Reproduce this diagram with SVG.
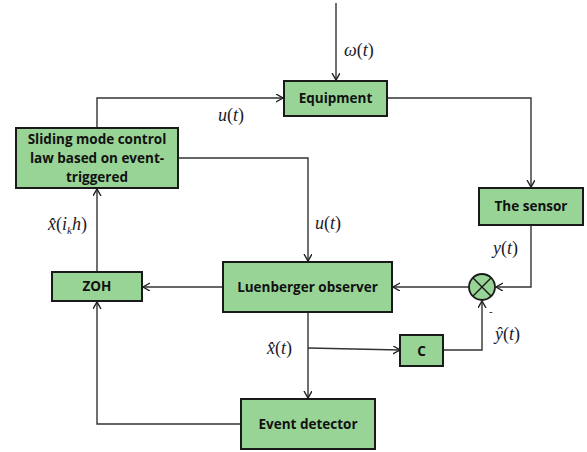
<svg xmlns="http://www.w3.org/2000/svg" width="587" height="452" viewBox="0 0 587 452">
  <style>
    .box { fill: #98d495; stroke: #1a1a1a; stroke-width: 2; }
    .lbl { font-family: "Open Sans", "Liberation Sans", sans-serif; font-weight: bold; font-size: 13.5px; fill: #111; text-anchor: middle; }
    .wire { fill: none; stroke: #333; stroke-width: 1.4; }
    .math { font-family: "Liberation Serif", "Times New Roman", serif; font-size: 18px; fill: #1a1a2a; }
    .it { font-style: italic; }
  </style>
  <defs>
    <marker id="arr" markerWidth="10" markerHeight="10" refX="7" refY="4" orient="auto" markerUnits="userSpaceOnUse">
      <path d="M0,0 L7,4 L0,8" fill="none" stroke="#222" stroke-width="1.4"/>
    </marker>
  </defs>

  <rect width="587" height="452" fill="#ffffff"/>

  <g id="connectors">
    <!-- disturbance into plant -->
    <path class="wire" d="M336,3 V80" marker-end="url(#arr)"/>
    <!-- control output to plant -->
    <path class="wire" d="M97,128 V98 H283" marker-end="url(#arr)"/>
    <!-- plant to sensor -->
    <path class="wire" d="M387,98 H531 V187" marker-end="url(#arr)"/>
    <!-- control to observer -->
    <path class="wire" d="M178,158 H308 V261" marker-end="url(#arr)"/>
    <!-- sensor to summing junction -->
    <path class="wire" d="M531,225 V287 H496" marker-end="url(#arr)"/>
    <!-- junction to observer -->
    <path class="wire" d="M469,287 H393" marker-end="url(#arr)"/>
    <!-- observer to ZOH -->
    <path class="wire" d="M223,287 H143" marker-end="url(#arr)"/>
    <!-- ZOH to controller -->
    <path class="wire" d="M97,272 V189" marker-end="url(#arr)"/>
    <!-- observer down to event detector -->
    <path class="wire" d="M308,312 V398" marker-end="url(#arr)"/>
    <!-- estimate to C -->
    <path class="wire" d="M308,348 L400,350" marker-end="url(#arr)"/>
    <!-- C to junction -->
    <path class="wire" d="M443,350 H482 V301" marker-end="url(#arr)"/>
    <!-- event detector to ZOH -->
    <path class="wire" d="M241,424 H97 V302" marker-end="url(#arr)"/>
  </g>

  <g id="equipment">
    <rect class="box" x="284" y="81" width="103" height="35"/>
    <text class="lbl" x="335.5" y="103">Equipment</text>
  </g>

  <g id="controller">
    <rect class="box" x="16" y="128" width="162" height="60"/>
    <text class="lbl" x="97" y="144">Sliding mode control</text>
    <text class="lbl" x="97" y="163">law based on event-</text>
    <text class="lbl" x="97" y="182">triggered</text>
  </g>

  <g id="sensor">
    <rect class="box" x="479" y="188" width="104" height="37"/>
    <text class="lbl" x="531" y="211">The sensor</text>
  </g>

  <g id="observer">
    <rect class="box" x="223" y="262" width="169" height="50"/>
    <text class="lbl" x="307.5" y="292">Luenberger observer</text>
  </g>

  <g id="zoh">
    <rect class="box" x="52" y="272" width="90" height="29"/>
    <text class="lbl" x="97" y="291">ZOH</text>
  </g>

  <g id="sum">
    <circle cx="482" cy="287" r="13" fill="#98d495" stroke="#1a1a1a" stroke-width="1.8"/>
    <path d="M472.8,277.8 L491.2,296.2 M491.2,277.8 L472.8,296.2" stroke="#1a1a1a" stroke-width="1.4"/>
    <text x="489" y="315" font-family="Liberation Sans, sans-serif" font-size="11" fill="#222">-</text>
  </g>

  <g id="gain-c">
    <rect class="box" x="400" y="335" width="43" height="31"/>
    <text class="lbl" x="421.5" y="356">C</text>
  </g>

  <g id="event-detector">
    <rect class="box" x="241" y="399" width="134" height="50"/>
    <text class="lbl" x="308" y="429">Event detector</text>
  </g>

  <g id="signal-labels">
    <text class="math" x="344" y="56"><tspan class="it">ω</tspan>(<tspan class="it">t</tspan>)</text>
    <text class="math" x="218" y="121"><tspan class="it">u</tspan>(<tspan class="it">t</tspan>)</text>
    <text class="math" x="315" y="229"><tspan class="it">u</tspan>(<tspan class="it">t</tspan>)</text>
    <text class="math" x="493" y="254"><tspan class="it">y</tspan>(<tspan class="it">t</tspan>)</text>
    <text class="math" x="48" y="230"><tspan class="it">x̂</tspan>(<tspan class="it">i</tspan><tspan class="it" font-size="11" dy="4">k</tspan><tspan class="it" dy="-4">h</tspan>)</text>
    <text class="math" x="267" y="354"><tspan class="it">x̂</tspan>(<tspan class="it">t</tspan>)</text>
    <text class="math" x="495" y="340"><tspan class="it">ŷ</tspan>(<tspan class="it">t</tspan>)</text>
  </g>
</svg>
